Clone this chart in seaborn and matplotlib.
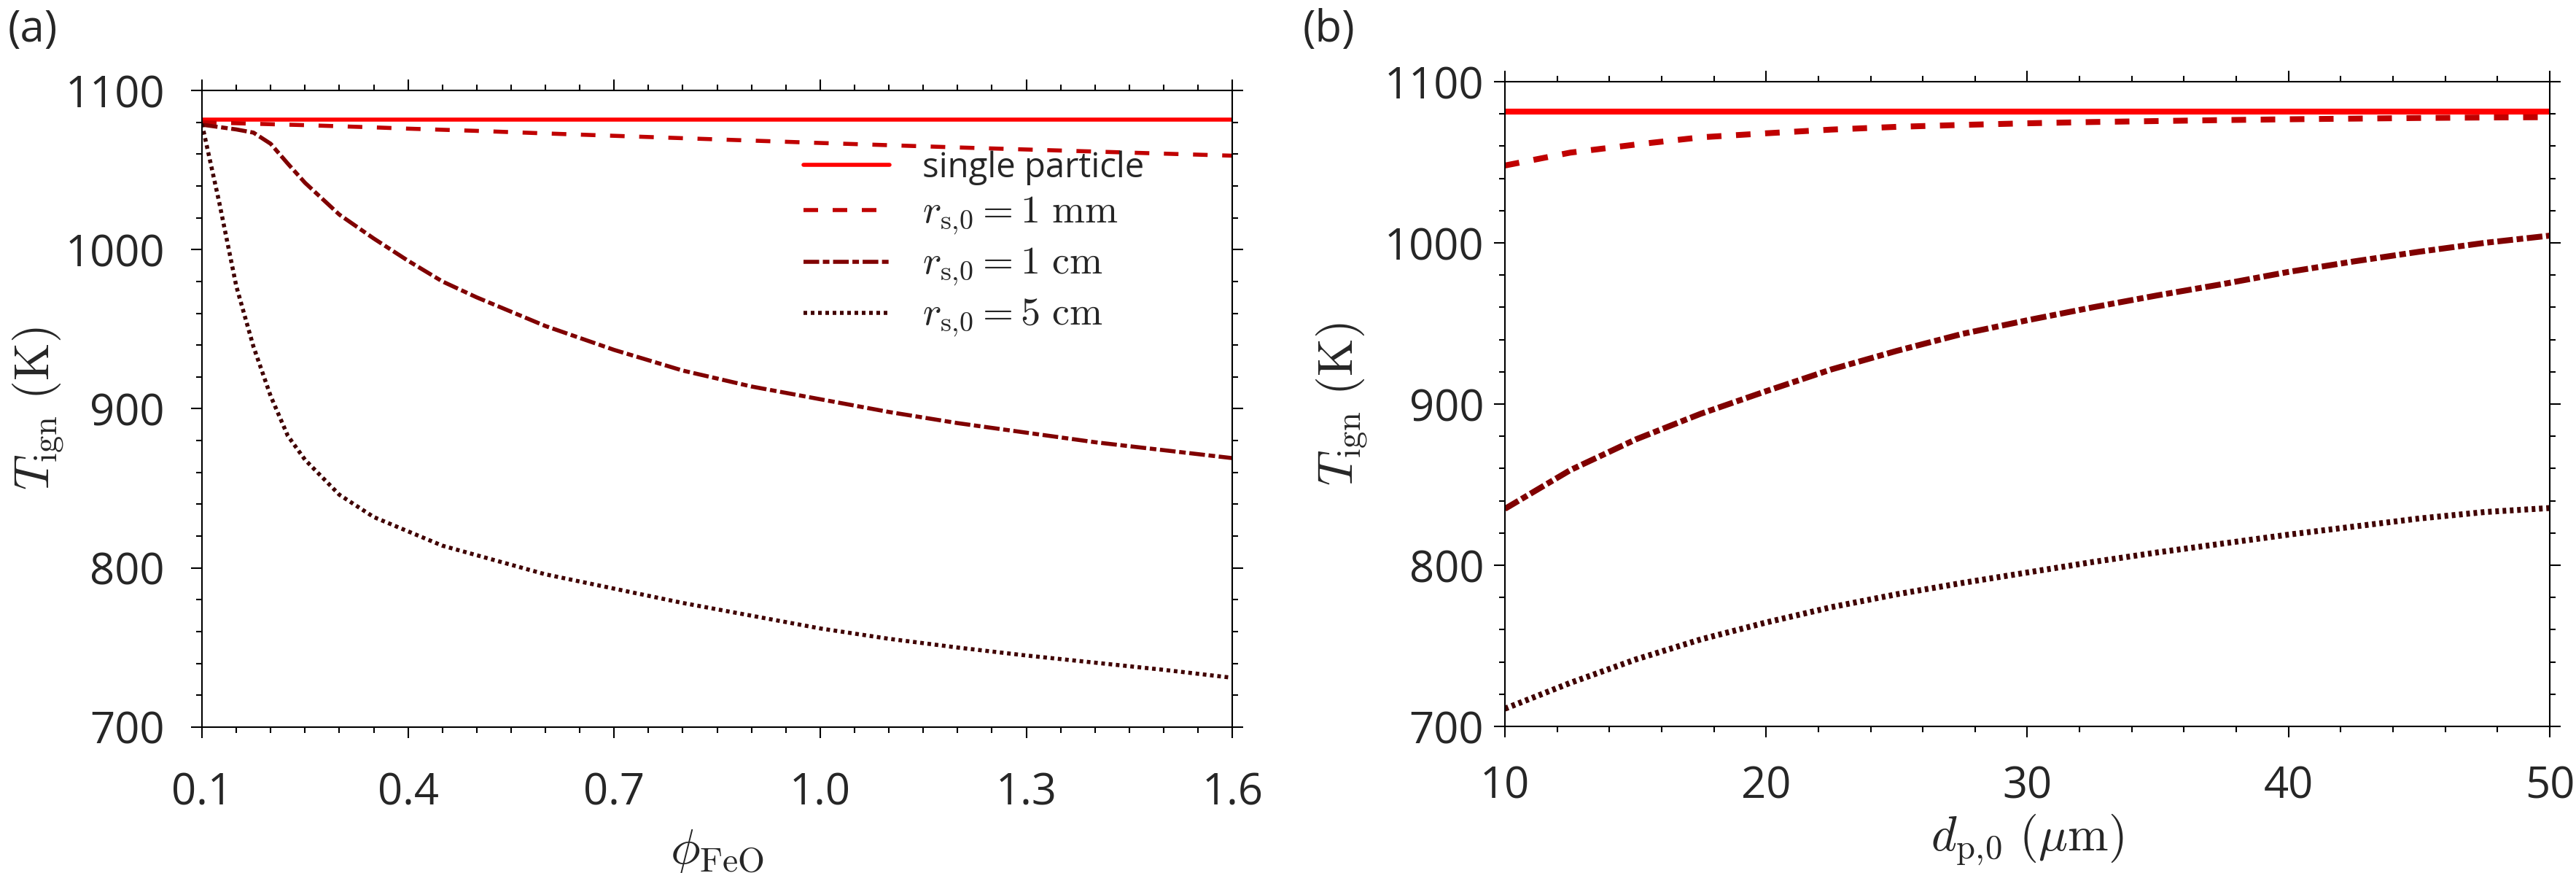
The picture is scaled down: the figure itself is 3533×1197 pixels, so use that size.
import matplotlib
matplotlib.use("Agg")
import numpy as np
import pandas as pd
import seaborn as sns
from matplotlib import pyplot
from matplotlib.ticker import MultipleLocator, FixedLocator

# ---------------- data ----------------
# panel (a): ignition temperature vs. phi_FeO
phi = [0.1, 0.125, 0.15, 0.175, 0.2, 0.225, 0.25, 0.3, 0.35, 0.4, 0.45, 0.5,
       0.6, 0.7, 0.8, 0.9, 1.0, 1.1, 1.2, 1.3, 1.4, 1.5, 1.6]
phi_single = [0.1, 1.6]
Ta_single = [1081.5, 1081.5]
Ta_1mm = [1080, 1079.7, 1079.4, 1079.1, 1078.8, 1078.5, 1078.2, 1077.5, 1076.8, 1076,
          1075.3, 1074.6, 1073, 1071.5, 1070, 1068.5, 1067, 1065.6, 1064.2, 1062.9,
          1061.6, 1060.3, 1059]
Ta_1cm = [1078.5, 1077, 1075.5, 1073.5, 1066.5, 1054, 1042, 1022, 1007, 993,
          980, 970, 952, 937, 924, 914, 906, 898, 891, 885, 879, 874, 869]
Ta_5cm = [1079, 1030, 977, 939, 908, 883, 868, 846, 832, 823,
          814, 808, 796, 787, 778, 770, 762, 755.5, 750, 745, 740.5, 736, 731]

# panel (b): ignition temperature vs. initial particle diameter
dp = [10, 12.5, 15, 17.5, 20, 22.5, 25, 27.5, 30, 32.5, 35, 37.5, 40, 42.5, 45, 47.5, 50]
dp_single = [10, 50]
Tb_single = [1081.5, 1081.5]
Tb_1mm = [1048, 1056, 1061, 1065.5, 1068, 1070.3, 1072, 1073.2, 1074.2, 1075,
          1075.6, 1076.2, 1076.7, 1077.1, 1077.5, 1077.8, 1078]
Tb_1cm = [835, 859, 878, 894, 908, 921.5, 933, 943.5, 952, 960,
          967.5, 974.5, 982, 988.5, 994.5, 1000, 1004.5]
Tb_5cm = [711, 727, 741.5, 754, 764.5, 774, 782, 789, 795.5, 802,
          808, 813.5, 819, 824, 829, 833, 835.5]

labels = ["single particle", r"$r_{\mathrm{s,\!0}} = 1\ \mathrm{mm}$",
          r"$r_{\mathrm{s,\!0}} = 1\ \mathrm{cm}$", r"$r_{\mathrm{s,\!0}} = 5\ \mathrm{cm}$"]
colors = ["#ff0000", "#c00000", "#800000", "#400000"]
xticks_a = [0.1, 0.4, 0.7, 1.0, 1.3, 1.6]
xticklabels_a = ["0.1", "0.4", "0.7", "1.0", "1.3", "1.6"]

# ---------------- style ----------------
sns.set_theme(style="ticks")
pyplot.rcParams["font.family"] = ["Open Sans", "DejaVu Sans"]
pyplot.rcParams["mathtext.fontset"] = "cm"
pyplot.rcParams["lines.scale_dashes"] = False
pyplot.rcParams["axes.linewidth"] = 1.5

styles = ["-", (0, (14.4, 14.4)), (0, (15.5, 3.6, 6.5, 3.6)), (0, (3.6, 3.6))]

fig = pyplot.figure(figsize=(35.33, 11.97), dpi=100)
ax_a = fig.add_axes([0.0784, 0.1671, 0.4000, 0.7293])
ax_b = fig.add_axes([0.5842, 0.1679, 0.4056, 0.7385])


def draw(ax, xs, ys, lw, with_labels):
    for (x, y), c, ls, lab in zip(zip(xs, ys), colors, styles, labels):
        df = pd.DataFrame({"x": x, "T": y})
        kw = dict(label=lab) if with_labels else {}
        sns.lineplot(data=df, x="x", y="T", ax=ax, color=c, lw=lw,
                     linestyle=ls, **kw)


draw(ax_a, [phi_single, phi, phi, phi], [Ta_single, Ta_1mm, Ta_1cm, Ta_5cm], 4.0, True)
draw(ax_b, [dp_single, dp, dp, dp], [Tb_single, Tb_1mm, Tb_1cm, Tb_5cm], 5.8, False)
if ax_b.get_legend() is not None:
    ax_b.get_legend().remove()

# axes limits / ticks
ax_a.set_xlim(0.1, 1.6)
ax_a.xaxis.set_major_locator(FixedLocator(xticks_a))
ax_a.set_xticklabels(xticklabels_a)
ax_a.xaxis.set_minor_locator(MultipleLocator(0.05))
ax_b.set_xlim(10, 50)
ax_b.xaxis.set_major_locator(MultipleLocator(10))
ax_b.xaxis.set_minor_locator(MultipleLocator(2))

for ax in (ax_a, ax_b):
    ax.set_ylim(700, 1100)
    ax.yaxis.set_major_locator(MultipleLocator(100))
    ax.yaxis.set_minor_locator(MultipleLocator(20))
    ax.tick_params(which="both", direction="out", top=True, right=True,
                   labeltop=False, labelright=False, width=1.5, color="black")
    ax.tick_params(which="major", length=10.8, labelsize=43)
    ax.tick_params(which="minor", length=5.6)
    for sp in ax.spines.values():
        sp.set_color("black")
        sp.set_linewidth(1.5)
    ax.set_ylabel(r"$T_{\rm ign}\ \mathrm{(K)}$", fontsize=48)

ax_a.tick_params(axis="x", which="major", pad=33)
ax_a.tick_params(axis="y", which="major", pad=26)
ax_b.tick_params(axis="x", which="major", pad=27)
ax_b.tick_params(axis="y", which="major", pad=10)

ax_a.set_xlabel(r"$\phi_{\rm FeO}$", fontsize=49)
ax_b.set_xlabel(r"$d_{\mathrm{p,\!0}}\ (\mu\mathrm{m})$", fontsize=48)
ax_a.xaxis.set_label_coords(0.5, -0.155)
ax_b.xaxis.set_label_coords(0.5, -0.135)
ax_a.yaxis.set_label_coords(-0.132, 0.5)
ax_b.yaxis.set_label_coords(-0.130, 0.5)

leg = ax_a.legend(loc="upper left", bbox_to_anchor=(0.584, 0.906), frameon=False,
                  fontsize=34, handlelength=2.5, handletextpad=0.95, labelspacing=0.2,
                  borderpad=0, borderaxespad=0)
for t in leg.get_texts()[1:]:
    t.set_fontsize(39)

fig.text(0.0031, 0.991, "(a)", fontsize=43, va="top", ha="left")
fig.text(0.5058, 0.991, "(b)", fontsize=43, va="top", ha="left")

fig.savefig("out.png", dpi=100)
